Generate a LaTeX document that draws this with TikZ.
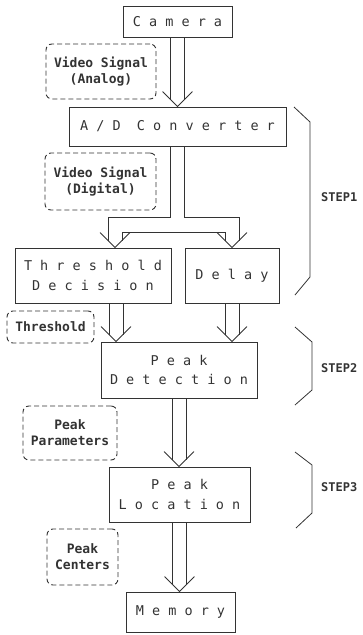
\documentclass[tikz,border=0pt]{standalone}
\usepackage{fontspec}
\usepackage{tikz}
\newfontfamily\boxfont[LetterSpace=60]{DejaVu Sans Mono}
\newfontfamily\tagfont{DejaVu Sans Mono}
\tikzstyle{block} = [draw=black!80, rectangle, line width=0.9pt, align=center, text=black!80, font=\boxfont\fontsize{13.5}{19.5}\selectfont]
\tikzstyle{tag} = [draw=black!80, rectangle, rounded corners=6pt, line width=0.9pt, dash pattern=on 5pt off 3pt, align=center, text=black!80, font=\tagfont\bfseries\fontsize{13}{16}\selectfont]
\tikzstyle{flow} = [draw=black!80, line width=0.8pt]
\tikzstyle{steplabel} = [anchor=west, inner sep=0pt, text=black!80, font=\tagfont\bfseries\fontsize{12}{14}\selectfont]

% double line arrow with an open head, from #1 down to the top of node #2
\newcommand{\chevron}[1]{%
  \draw [flow] ([xshift=-15pt,yshift=15pt]#1) -- (#1) -- ([xshift=15pt,yshift=15pt]#1);}
\newcommand{\dblarrow}[2]{%
  \draw [flow] ([xshift=-7pt]#1) -- ([xshift=-7pt,yshift=7pt]#1 |- #2.north);
  \draw [flow] ([xshift=7pt]#1) -- ([xshift=7pt,yshift=7pt]#1 |- #2.north);
  \chevron{#1 |- #2.north}}

\begin{document}
\begin{tikzpicture}[x=1pt, y=-1pt]
  \useasboundingbox (0,0) rectangle (363,635);

  \node [block, minimum width=109pt, minimum height=31pt] (camera) at (177.5,21.5) {Camera};
  \node [block, minimum width=217pt, minimum height=39pt] (conv) at (177.5,126.5) {A/D Converter};
  \node [block, minimum width=156pt, minimum height=55pt] (thresh) at (93,275.5) {Threshold\\Decision};
  \node [block, minimum width=94pt, minimum height=55pt] (delay) at (232,275.5) {Delay};
  \node [block, minimum width=156pt, minimum height=56pt] (detect) at (179,370) {Peak\\Detection};
  \node [block, minimum width=141pt, minimum height=55pt] (locate) at (179.5,494.5) {Peak\\Location};
  \node [block, minimum width=109pt, minimum height=40pt] (memory) at (180.5,612) {Memory};

  % data carried along each step
  \node [tag, minimum width=110pt, minimum height=55pt] (analog) at (101,71.5) {Video Signal\\(Analog)};
  \node [tag, minimum width=111pt, minimum height=57pt] (digital) at (100.5,181.5) {Video Signal\\(Digital)};
  \node [tag, minimum width=87pt, minimum height=32pt] (level) at (50.5,327) {Threshold};
  \node [tag, minimum width=94pt, minimum height=54pt] (params) at (70,433) {Peak\\Parameters};
  \node [tag, minimum width=71pt, minimum height=56pt] (centers) at (82.5,557) {Peak\\Centers};

  \dblarrow{camera.south}{conv}

  % split towards threshold decision and delay
  \coordinate (lt) at ([xshift=22pt]thresh.north);
  \coordinate (rt) at (delay.north);
  \draw [flow] ([xshift=-7pt]conv.south) -- ++(0,71) -| ([xshift=-7pt,yshift=7pt]lt);
  \draw [flow] ([xshift=7pt]conv.south) -- ++(0,71) -| ([xshift=7pt,yshift=7pt]rt);
  \draw [flow] ([xshift=7pt,yshift=7pt]lt) -- ([xshift=7pt,yshift=15pt]lt)
    -- ([xshift=-7pt,yshift=15pt]rt) -- ([xshift=-7pt,yshift=7pt]rt);
  \chevron{lt}
  \chevron{rt}

  \coordinate (throut) at ([xshift=23pt]thresh.south);
  \dblarrow{throut}{detect}
  \dblarrow{delay.south}{detect}
  \dblarrow{detect.south}{locate}
  \dblarrow{locate.south}{memory}

  % braces for the steps
  \draw [flow] (294,107) -- (310,122) -- (310,277) -- (295,295);
  \draw [flow] (295,327) -- (312,342) -- (312,390) -- (295,405);
  \draw [flow] (295,452) -- (312,465) -- (312,513) -- (296,528);
  \node [steplabel] (step1) at (321,197) {STEP1};
  \node [steplabel] (step2) at (321,368) {STEP2};
  \node [steplabel] (step3) at (321,487) {STEP3};
\end{tikzpicture}
\end{document}
